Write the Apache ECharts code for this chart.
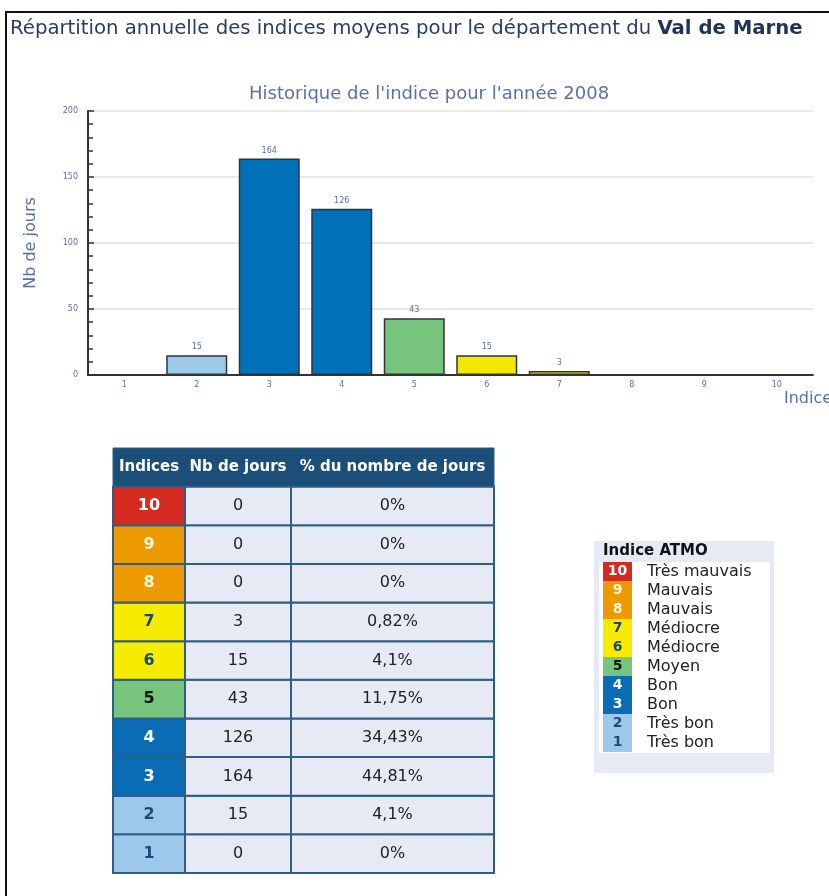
<!DOCTYPE html>
<html>
<head>
<meta charset="utf-8">
<script src="https://cdn.jsdelivr.net/npm/echarts@6/dist/echarts.min.js"></script>
<style>
html, body { margin: 0; padding: 0; background: #fff; }
#main { width: 829px; height: 896px; }
</style>
</head>
<body>
<div id="main"></div>
<script>
// --- données ---
var indices = ['1', '2', '3', '4', '5', '6', '7', '8', '9', '10'];
var nbJours = [0, 15, 164, 126, 43, 15, 3, 0, 0, 0];
var pourcentages = ['0%', '4,1%', '44,81%', '34,43%', '11,75%', '4,1%', '0,82%', '0%', '0%', '0%'];
var qualificatifs = ['Très bon', 'Très bon', 'Bon', 'Bon', 'Moyen', 'Médiocre', 'Médiocre', 'Mauvais', 'Mauvais', 'Très mauvais'];
var enTetes = ['Indices', 'Nb de jours', '% du nombre de jours'];
var yTicks = [0, 50, 100, 150, 200];

// couleurs ATMO (style)
var couleursBarres = ['#9ecaea', '#9ecaea', '#0070b8', '#0070b8', '#76c47e', '#f5e800', '#f5e800', '#ec9a00', '#ec9a00', '#d42a20'];
var couleursCases = ['#9dc8ea', '#9dc8ea', '#0a6cb4', '#0a6cb4', '#76c47e', '#f7ec00', '#f7ec00', '#ec9a00', '#ec9a00', '#d42a20'];
var couleursChiffres = ['#1c4a78', '#1c4a78', '#ffffff', '#ffffff', '#111111', '#1c4a78', '#1c4a78', '#fff6d8', '#fff6d8', '#ffffff'];

var police = 'DejaVu Sans, Verdana, sans-serif';
var bleuTexte = '#5b6fa6';

// lignes du tableau : indices de bas en haut, en-tête tout en haut
var lignesTableau = indices.concat(['entete']);
var cellules = [];
var donneesTableau = [];
cellules.push({ entete: true });
donneesTableau.push([0, 'entete']);
for (var i = 0; i < indices.length; i++) {
    for (var c = 0; c < 3; c++) {
        cellules.push({ idx: i, col: c });
        donneesTableau.push([c, indices[i]]);
    }
}
var bordsColonnes = [0, 72 / 381, 178 / 381, 1];

function texte(txt, x, y, font, fill, align) {
    return {
        type: 'text',
        style: { text: txt, x: x, y: y, font: font, fill: fill, align: align || 'center', verticalAlign: 'middle' }
    };
}

function renderTableau(params, api) {
    var cel = cellules[params.dataIndex];
    var ligne = api.value(1);
    var yc = api.coord([0, ligne])[1];
    var h = api.size([0, 1])[1];
    var enfants = [];
    if (cel.entete) {
        var xa = api.coord([0, ligne])[0], xb = api.coord([1, ligne])[0];
        enfants.push({ type: 'rect', shape: { x: xa, y: yc - h / 2, width: xb - xa, height: h },
            style: { fill: '#1b4e78', stroke: '#2e5d86', lineWidth: 1 } });
        for (var k = 0; k < 3; k++) {
            var x0 = api.coord([bordsColonnes[k], ligne])[0];
            var x1 = api.coord([bordsColonnes[k + 1], ligne])[0];
            enfants.push(texte(enTetes[k], (x0 + x1) / 2, yc, 'bold 15px ' + police, '#ffffff'));
        }
        return { type: 'group', children: enfants };
    }
    var xs = api.coord([bordsColonnes[cel.col], ligne])[0];
    var xe = api.coord([bordsColonnes[cel.col + 1], ligne])[0];
    var fond = cel.col === 0 ? couleursCases[cel.idx] : '#e6eaf4';
    enfants.push({ type: 'rect', shape: { x: xs, y: yc - h / 2, width: xe - xs, height: h },
        style: { fill: fond, stroke: '#2e5d86', lineWidth: 2 } });
    var contenu, font, couleur;
    if (cel.col === 0) {
        contenu = indices[cel.idx]; font = 'bold 16px ' + police; couleur = couleursChiffres[cel.idx];
    } else if (cel.col === 1) {
        contenu = String(nbJours[cel.idx]); font = '16px ' + police; couleur = '#222';
    } else {
        contenu = pourcentages[cel.idx]; font = '16px ' + police; couleur = '#222';
    }
    enfants.push(texte(contenu, (xs + xe) / 2, yc, font, couleur));
    return { type: 'group', children: enfants };
}

function renderLegende(params, api) {
    var i = params.dataIndex;
    var p = api.coord([0, api.value(1)]);
    var h = api.size([0, 1])[1];
    return {
        type: 'group',
        children: [
            { type: 'rect', shape: { x: p[0], y: p[1] - h / 2, width: 29, height: h },
              style: { fill: couleursCases[i] } },
            texte(indices[i], p[0] + 14.5, p[1], 'bold 14px ' + police, couleursChiffres[i]),
            texte(qualificatifs[i], p[0] + 44, p[1], '16px ' + police, '#222', 'left')
        ]
    };
}

var myChart = echarts.init(document.getElementById('main'));
var option = {
    backgroundColor: '#fff',
    animation: false,
    title: [
        {
            text: '{n|Répartition annuelle des indices moyens pour le département du }{b|Val de Marne}',
            left: 5, top: 14,
            textStyle: {
                rich: {
                    n: { fontSize: 19.7, fontWeight: 'normal', color: '#2a3d63', fontFamily: police },
                    b: { fontSize: 19.7, fontWeight: 'bold', color: '#1f3358', fontFamily: police }
                }
            }
        },
        {
            text: "Historique de l'indice pour l'année 2008",
            left: 244, top: 80,
            textStyle: { fontSize: 18, fontWeight: 'normal', color: bleuTexte, fontFamily: police }
        }
    ],
    graphic: [
        { type: 'polyline', shape: { points: [[6, 896], [6, 12], [829, 12]] }, style: { stroke: '#111', lineWidth: 2, fill: null } },
        { type: 'rect', shape: { x: 594, y: 541, width: 180, height: 232 }, style: { fill: '#e6eaf4' } },
        { type: 'rect', shape: { x: 599, y: 562, width: 171, height: 191 }, style: { fill: '#ffffff' } },
        { type: 'text', x: 603, y: 551, style: { text: 'Indice ATMO', font: 'bold 15px ' + police, fill: '#111', verticalAlign: 'middle' } }
    ],
    grid: [
        { left: 88, top: 111, width: 725, height: 264, outerBoundsMode: 'none' },
        { left: 113, top: 448, width: 381, height: 425, outerBoundsMode: 'none' },
        { left: 603, top: 562, width: 167, height: 190, outerBoundsMode: 'none' }
    ],
    xAxis: [
        {
            gridIndex: 0, type: 'category', data: indices,
            name: 'Indices', nameLocation: 'end', nameGap: -29,
            nameTextStyle: { fontSize: 16, color: bleuTexte, fontFamily: police, align: 'left', verticalAlign: 'top', padding: [16, 0, 0, 0] },
            axisLine: { lineStyle: { color: '#333', width: 2 } },
            axisTick: { show: false },
            axisLabel: { fontSize: 8, color: bleuTexte, fontFamily: police, margin: 6 }
        },
        { gridIndex: 1, type: 'value', min: 0, max: 1, show: false },
        { gridIndex: 2, type: 'value', min: 0, max: 1, show: false }
    ],
    yAxis: [
        {
            gridIndex: 0, type: 'value',
            min: yTicks[0], max: yTicks[yTicks.length - 1], interval: yTicks[1] - yTicks[0],
            name: 'Nb de jours', nameLocation: 'middle', nameGap: 49, nameRotate: 90,
            nameTextStyle: { fontSize: 16, color: bleuTexte, fontFamily: police },
            axisLine: { show: true, lineStyle: { color: '#333', width: 2 } },
            axisTick: { show: true, inside: true, length: 6, lineStyle: { color: '#333', width: 1.5 } },
            minorTick: { show: true, splitNumber: 5, length: 5, lineStyle: { color: '#333', width: 1.5 } },
            axisLabel: { fontSize: 8, color: bleuTexte, fontFamily: police, margin: 10 },
            splitLine: { lineStyle: { color: '#e2e2e2', width: 1.5 } }
        },
        { gridIndex: 1, type: 'category', data: lignesTableau, show: false },
        { gridIndex: 2, type: 'category', data: indices, show: false }
    ],
    series: [
        {
            type: 'bar', xAxisIndex: 0, yAxisIndex: 0,
            data: nbJours.map(function (v, i) {
                return { value: v, itemStyle: { color: couleursBarres[i] } };
            }),
            barWidth: 61,
            itemStyle: { borderColor: '#333', borderWidth: 1.5 },
            label: {
                show: true, position: 'top', distance: 4,
                fontSize: 8, color: bleuTexte, fontFamily: police,
                formatter: function (p) { return p.value ? p.value : ''; }
            }
        },
        {
            type: 'custom', xAxisIndex: 1, yAxisIndex: 1,
            data: donneesTableau, renderItem: renderTableau, silent: true
        },
        {
            type: 'custom', xAxisIndex: 2, yAxisIndex: 2,
            data: indices.map(function (v) { return [0, v]; }),
            renderItem: renderLegende, silent: true
        }
    ]
};
myChart.setOption(option);
</script>
</body>
</html>
